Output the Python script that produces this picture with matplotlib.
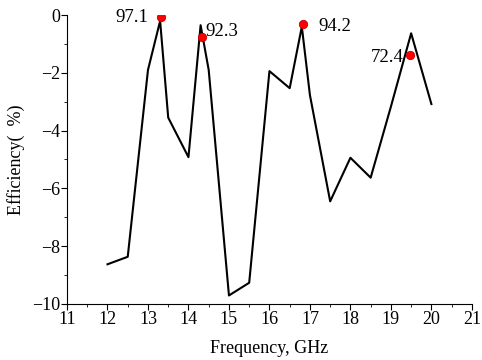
import numpy as np
import matplotlib.pyplot as plt
from matplotlib.ticker import MultipleLocator

plt.rcParams['font.family'] = ['Liberation Serif', 'DejaVu Serif']

# efficiency curve
freq = [12, 12.5, 13, 13.3, 13.5, 14, 14.3, 14.5, 15, 15.5, 16, 16.5, 16.8, 17,
        17.5, 18, 18.5, 19, 19.5, 20]
eff = [-8.63, -8.37, -1.90, -0.20, -3.55, -4.92, -0.35, -1.90, -9.71, -9.27,
       -1.94, -2.53, -0.40, -2.77, -6.45, -4.94, -5.63, -3.17, -0.63, -3.08]

# highlighted points
pk_freq = [13.32, 14.34, 16.83, 19.46]
pk_eff = [-0.08, -0.75, -0.31, -1.38]
pk_text = ["97.1", "92.3", "94.2", "72.4"]
pk_offset = [(-33, 0), (2.5, 3.6), (11, -1.5), (-28, -1.5)]

fig = plt.figure(figsize=(4.82, 3.6), dpi=100)
ax = fig.add_axes([0.139, 0.156, 0.840, 0.802])

ax.plot(freq, eff, color='black', lw=1.5)
ax.plot(pk_freq, pk_eff, 'o', color='red', ms=6, mec='#c00000', mew=0.6)
for x, y, t, off in zip(pk_freq, pk_eff, pk_text, pk_offset):
    ax.annotate(t, (x, y), xytext=off, textcoords='offset points',
                fontsize=13.5, va='center', ha='left')

ax.set_xlim(11, 21)
ax.set_ylim(-10, 0)
ax.xaxis.set_major_locator(MultipleLocator(1))
ax.xaxis.set_minor_locator(MultipleLocator(0.5))
ax.yaxis.set_major_locator(MultipleLocator(2))
ax.yaxis.set_minor_locator(MultipleLocator(1))
ax.tick_params(which='major', direction='out', length=4, labelsize=13, pad=1)
ax.tick_params(which='minor', direction='out', length=2.5)
ax.spines['top'].set_visible(False)
ax.spines['right'].set_visible(False)

ax.set_xlabel("Frequency, GHz", fontsize=13, labelpad=9)
ax.set_ylabel("Efficiency(  %)", fontsize=13, labelpad=5)

fig.savefig("out.png", dpi=100)
